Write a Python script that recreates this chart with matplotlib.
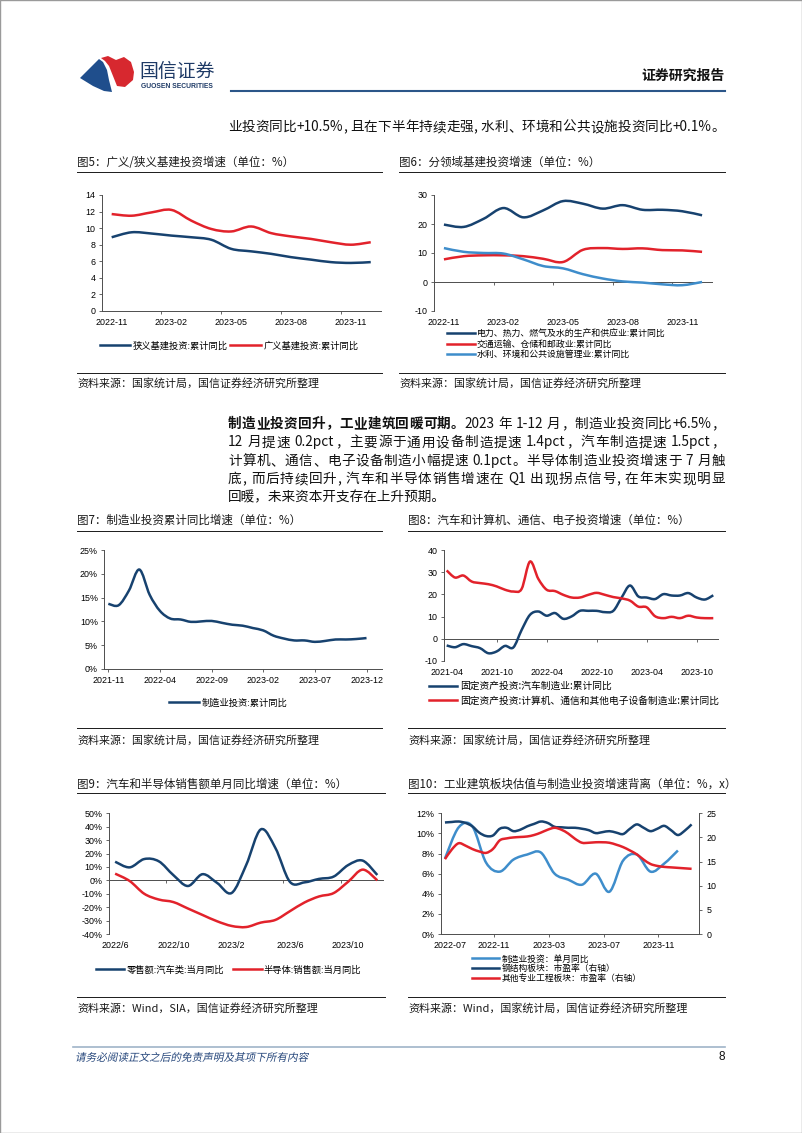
import re
import matplotlib
matplotlib.use('Agg')
import matplotlib.pyplot as plt
import numpy as np
from matplotlib.path import Path
from matplotlib.patches import PathPatch, Polygon, Rectangle
from matplotlib.lines import Line2D
from matplotlib.textpath import TextPath
from matplotlib.font_manager import FontProperties
from matplotlib.transforms import Affine2D

plt.rcParams['font.family'] = ['Noto Sans CJK SC', 'DejaVu Sans']

# ---------------- 数据 ----------------
# 图5  2022-11 ... 2023-12
f5_ticks = ['2022-11', '2023-02', '2023-05', '2023-08', '2023-11']
f5_narrow = [8.9, 9.5, 9.35, 9.1, 8.9, 8.6, 7.5, 7.2, 6.9, 6.5, 6.2, 5.9, 5.8, 5.9]
f5_broad = [11.7, 11.5, 11.9, 12.2, 10.9, 9.9, 9.6, 10.2, 9.4, 9.0, 8.7, 8.3, 8.0, 8.3]

# 图6
f6_ticks = ['2022-11', '2023-02', '2023-05', '2023-08', '2023-11']
f6_power = [19.8, 19.0, 21.8, 25.5, 22.3, 24.7, 27.9, 27.0, 25.3, 26.5, 24.9, 24.9, 24.4, 23.0]
f6_transport = [7.8, 8.9, 9.2, 9.2, 8.9, 8.0, 6.9, 11.1, 11.7, 11.4, 11.6, 11.0, 10.9, 10.4]
f6_water = [11.7, 10.4, 10.0, 9.8, 7.8, 5.5, 4.7, 2.7, 1.2, 0.2, -0.2, -0.8, -1.1, 0.0]

# 图7  2021-11 ... 2023-12
f7_ticks = ['2021-11', '2022-04', '2022-09', '2023-02', '2023-07', '2023-12']
f7_mfg = [13.7, 13.4, 16.5, 20.9, 15.6, 12.2, 10.6, 10.4, 9.9, 10.0, 10.1, 9.7, 9.3,
          9.1, 8.6, 8.1, 7.0, 6.4, 6.0, 6.0, 5.7, 5.9, 6.2, 6.2, 6.3, 6.5]

# 图8  2021-04 ... 2023-12
f8_ticks = ['2021-04', '2021-10', '2022-04', '2022-10', '2023-04', '2023-10']
f8_auto = [-3.0, -3.8, -2.4, -3.3, -4.2, -6.5, -5.7, -3.2, -3.9, 4.0, 10.8, 12.3, 10.4,
           11.6, 9.0, 10.1, 12.6, 12.6, 12.6, 12.0, 12.6, 18.6, 24.0, 19.1, 18.6, 17.9,
           20.1, 19.5, 19.5, 20.6, 18.6, 17.7, 19.6]
f8_comp = [30.8, 27.6, 28.5, 25.8, 25.1, 24.6, 23.6, 22.1, 21.3, 22.5, 34.8, 27.0, 22.1,
           21.5, 19.8, 18.6, 18.6, 19.8, 20.7, 19.8, 18.8, 18.2, 17.2, 14.5, 14.2, 10.2,
           9.3, 9.9, 9.3, 10.4, 9.6, 9.3, 9.3]

# 图9  2022/6 ... 2023/12
f9_ticks = ['2022/6', '2022/10', '2023/2', '2023/6', '2023/10']
f9_auto = [13.9, 9.7, 15.9, 14.2, 3.9, -4.2, 4.6, -1.9, -9.4, 11.5, 38.0, 24.2, -1.1,
           -1.5, 1.1, 2.8, 11.4, 14.7, 4.0]
f9_semi = [5.0, -0.5, -10.0, -14.3, -16.2, -21.0, -25.8, -30.5, -34.0, -34.8, -31.5,
           -29.5, -23.0, -16.5, -12.0, -9.5, -1.0, 8.0, 0.0]

# 图10  制造业投资单月同比 2022-07 ... 2023-12, 市盈率半月度
f10_ticks = ['2022-07', '2022-11', '2023-03', '2023-07', '2023-11']
f10_inv = [7.5, 10.6, 10.7, 7.1, 6.2, 7.4, 7.9, 8.1, 6.0, 5.4, 4.9, 6.0, 4.2, 7.3,
           7.9, 6.2, 7.0, 8.3]
f10_steel = [23.1, 23.2, 23.3, 23.0, 22.3, 21.0, 20.3, 20.4, 21.8, 22.0, 21.3, 21.6,
             22.3, 22.8, 23.3, 23.0, 22.2, 22.1, 22.0, 22.0, 21.8, 21.5, 20.9, 21.1,
             21.3, 21.0, 20.7, 21.8, 22.7, 22.0, 21.3, 21.8, 22.4, 21.5, 20.5, 21.4, 22.7]
f10_other = [15.5, 17.5, 18.8, 18.3, 17.6, 17.1, 16.8, 17.6, 19.4, 19.8, 20.0, 20.1,
             20.2, 20.5, 21.0, 21.6, 22.0, 21.6, 20.8, 19.7, 18.9, 18.9, 19.0, 19.0,
             18.9, 18.5, 18.0, 17.3, 16.5, 15.4, 14.5, 14.1, 13.9, 13.8, 13.7, 13.6, 13.5]

# ---------------- 样式 ----------------
W, H = 802, 1133
NAVY = '#17426F'
RED = '#E2222B'
LBLUE = '#3E8DCB'
AXC = '#4D4D4D'
TF = 'Liberation Sans'
TS = 6.4

fig = plt.figure(figsize=(W / 100, H / 100), dpi=100)
renderer = fig.canvas.get_renderer()


def fx(x):
    return x / W


def fy(y):
    return 1 - y / H


def add_ax(x0, x1, y0, y1):
    return fig.add_axes([fx(x0), fy(y1), (x1 - x0) / W, (y1 - y0) / H])


def text(x, y, s, size=8, **kw):
    kw.setdefault('va', 'center')
    return fig.text(fx(x), fy(y), s, fontsize=size, **kw)


def justify(y, segments, x0=228, x1=725, size=9.8):
    # 两端对齐：中文逐字，西文词保持整体
    toks = [(t, w) for s, w in segments for t in re.findall(r'[A-Za-z0-9.+%\-]+|.', s)]
    widths = []
    for t, w in toks:
        fp = FontProperties(family=['Noto Sans CJK SC', 'DejaVu Sans'], size=size, weight=w)
        widths.append(renderer.get_text_width_height_descent(t, fp, ismath=False)[0])
    gap = (x1 - x0 - sum(widths)) / (len(toks) - 1)
    x = x0
    for (t, w), tw in zip(toks, widths):
        text(x, y, t, size, weight=w, color='#111111')
        x += tw + gap


def hline(x0, x1, y, color='#222222', lw=0.6):
    fig.add_artist(Line2D([fx(x0), fx(x1)], [fy(y), fy(y)], color=color, lw=lw,
                          transform=fig.transFigure))


def smooth(ax, x, y, color, lw=1.8):
    pts = np.column_stack([x, y]).astype(float)
    n = len(pts)
    verts, codes = [pts[0]], [Path.MOVETO]
    for i in range(n - 1):
        p0 = pts[i - 1] if i > 0 else pts[i]
        p1, p2 = pts[i], pts[i + 1]
        p3 = pts[i + 2] if i + 2 < n else pts[i + 1]
        verts += [p1 + (p2 - p0) / 6, p2 - (p3 - p1) / 6, p2]
        codes += [Path.CURVE4] * 3
    ax.add_patch(PathPatch(Path(verts, codes), fill=False, edgecolor=color, lw=lw,
                           joinstyle='round', capstyle='butt'))


def base(ax, xlim, ylim, yticks, ylabels):
    ax.set_xlim(xlim)
    ax.set_ylim(ylim)
    ax.set_facecolor('none')
    ax.set_yticks(yticks)
    ax.set_yticklabels(ylabels, fontfamily=TF, fontsize=TS)
    for s in ['top', 'right']:
        ax.spines[s].set_visible(False)
    for s in ['left', 'bottom']:
        ax.spines[s].set_color(AXC)
        ax.spines[s].set_linewidth(0.7)
    ax.tick_params(axis='y', length=2.5, width=0.6, color=AXC, pad=2.1)


def xlabels(ax, pos, labels, marks=None, zero=None, major_len=0):
    ax.set_xticks(pos)
    ax.set_xticklabels(labels, fontfamily=TF, fontsize=TS)
    ax.tick_params(axis='x', which='major', length=major_len, width=0.6, color=AXC,
                   pad=5.0 - major_len)
    if zero is None:
        if marks is not None:
            ax.set_xticks(marks, minor=True)
            ax.tick_params(axis='x', which='minor', length=2.5, width=0.6, color=AXC)
    else:
        ax.spines['bottom'].set_visible(False)
        ax.tick_params(axis='x', which='major', length=0, pad=5.0)
        sec = ax.secondary_xaxis(zero)
        sec.set_xticks(marks)
        sec.tick_params(axis='x', length=2.5, width=0.6, color=AXC, labelbottom=False)
        sec.spines['bottom'].set_color(AXC)
        sec.spines['bottom'].set_linewidth(0.7)


def legend(ax, handles, labels, x, y, loc='center', ncol=1, size=6.7, hl=3.2,
           cs=0.5, ls=0.0):
    ax.legend(handles, labels, loc=loc, bbox_to_anchor=(fx(x), fy(y)),
              bbox_transform=fig.transFigure, ncol=ncol, frameon=False, fontsize=size,
              handlelength=hl, handletextpad=0.25, columnspacing=cs, labelspacing=ls,
              borderpad=0, borderaxespad=0)


def h(color):
    return Line2D([], [], color=color, lw=1.8)


def block(x0, x1, ty, title, uy, sy, src, ly):
    text(x0, ty, title, 8.3, color='#1a1a1a')
    hline(x0, x1, uy, '#1a1a1a', 0.7)
    hline(x0, x1, ly, '#1a1a1a', 0.7)
    text(x0, sy, src, 7.9, color='#1a1a1a')


# ---------------- 页面 ----------------
fig.add_artist(Rectangle((0, 0), 1, 1, transform=fig.transFigure, fill=False,
                         edgecolor='#9a9a9a', lw=1.0))

blue_logo = [(80, 78), (99, 59), (103, 62), (107, 70), (109, 80), (112, 92),
             (104, 91), (93, 86)]
red_logo = [(101, 58), (108, 56), (116, 60), (124, 57), (131, 62), (134, 72),
            (133, 80), (125, 87), (117, 86), (113, 76), (109, 66), (105, 61)]
fig.add_artist(Polygon([(fx(a), fy(b)) for a, b in blue_logo], closed=True,
                       transform=fig.transFigure, facecolor='#1F4E8C', edgecolor='none'))
fig.add_artist(Polygon([(fx(a), fy(b)) for a, b in red_logo], closed=True,
                       transform=fig.transFigure, facecolor='#D7282F', edgecolor='none'))
text(139.5, 71.5, '国信证券', 13.6, color='#1E3A66', weight='medium')
text(141, 87, 'GUOSEN SECURITIES', 4.9, color='#1E3A66', weight='bold', family=TF)
text(725, 76, '证券研究报告', 10, ha='right', weight='bold', color='#111111')
hline(231, 725, 91, '#2B5689', 1.5)

justify(127, [('业投资同比+10.5%, 且在下半年持续走强, 水利、环境和公共设施投资同比+0.1%。', 'normal')])

para = [[('制造业投资回升，工业建筑回暖可期。', 'bold'), ('2023 年 1-12 月，制造业投资同比+6.5%，', 'normal')],
        [('12 月提速 0.2pct，主要源于通用设备制造提速 1.4pct，汽车制造提速 1.5pct，', 'normal')],
        [('计算机、通信、电子设备制造小幅提速 0.1pct。半导体制造业投资增速于 7 月触', 'normal')],
        [('底, 而后持续回升, 汽车和半导体销售增速在 Q1 出现拐点信号, 在年末实现明显', 'normal')]]
for i, segs in enumerate(para):
    justify(424 + 18.4 * i, segs)
text(228, 424 + 18.4 * 4, '回暖，未来资本开支存在上升预期。', 9.8, color='#111111')

# ---------------- 图5 ----------------
block(77, 382, 162, '图5：广义/狭义基建投资增速（单位：%）', 171.7, 383,
      '资料来源：国家统计局，国信证券经济研究所整理', 372.7)
ax = add_ax(101.7, 380.7, 195, 311)
x = np.arange(len(f5_narrow))
base(ax, (-0.5, 13.5), (0, 14), range(0, 15, 2), [str(v) for v in range(0, 15, 2)])
xlabels(ax, [0, 3, 6, 9, 12], f5_ticks, marks=[2.5, 5.5, 8.5, 11.5])
smooth(ax, x, f5_narrow, NAVY)
smooth(ax, x, f5_broad, RED)
legend(ax, [h(NAVY), h(RED)], ['狭义基建投资:累计同比', '广义基建投资:累计同比'],
       229, 346, ncol=2, hl=3.3, cs=0.3)

# ---------------- 图6 ----------------
block(399, 725, 162, '图6：分领域基建投资增速（单位：%）', 171.7, 383,
      '资料来源：国家统计局，国信证券经济研究所整理', 372.7)
ax = add_ax(434, 712, 195, 311)
x = np.arange(len(f6_power))
base(ax, (-0.5, 13.5), (-10, 30), range(-10, 31, 10), [str(v) for v in range(-10, 31, 10)])
xlabels(ax, [0, 3, 6, 9, 12], f6_ticks, marks=[2.5, 5.5, 8.5, 11.5], zero=0.25)
smooth(ax, x, f6_power, NAVY)
smooth(ax, x, f6_transport, RED)
smooth(ax, x, f6_water, LBLUE)
legend(ax, [h(NAVY), h(RED), h(LBLUE)],
       ['电力、热力、燃气及水的生产和供应业:累计同比', '交通运输、仓储和邮政业:累计同比',
        '水利、环境和公共设施管理业:累计同比'], 447, 329.5, loc='upper left', size=6.4,
       hl=3.1, ls=0.12)

# ---------------- 图7 ----------------
block(77, 382, 520, '图7：制造业投资累计同比增速（单位：%）', 531, 740,
      '资料来源：国家统计局，国信证券经济研究所整理', 727.7)
ax = add_ax(104.3, 381.7, 550, 669)
x = np.arange(len(f7_mfg))
base(ax, (-0.39, 26.47), (0, 25), range(0, 26, 5), [f'{v}%' for v in range(0, 26, 5)])
xlabels(ax, [0, 5, 10, 15, 20, 25], f7_ticks, major_len=2.5)
smooth(ax, x, f7_mfg, NAVY)
legend(ax, [h(NAVY)], ['制造业投资:累计同比'], 228, 703, hl=3.2)

# ---------------- 图8 ----------------
block(408, 725, 520, '图8：汽车和计算机、通信、电子投资增速（单位：%）', 531, 740,
      '资料来源：国家统计局，国信证券经济研究所整理', 727.7)
ax = add_ax(444, 717.7, 550, 661)
x = np.arange(len(f8_auto))
base(ax, (-0.32, 32.53), (-10, 40), range(-10, 41, 10), [str(v) for v in range(-10, 41, 10)])
xlabels(ax, [0, 6, 12, 18, 24, 30], f8_ticks, marks=[6, 12, 18, 24, 30], zero=0.2)
smooth(ax, x, f8_auto, NAVY)
smooth(ax, x, f8_comp, RED)
legend(ax, [h(NAVY), h(RED)],
       ['固定资产投资:汽车制造业:累计同比', '固定资产投资:计算机、通信和其他电子设备制造业:累计同比'],
       429, 681, loc='upper left', size=7.0, hl=2.9, ls=0.5)

# ---------------- 图9 ----------------
block(77, 385, 784, '图9：汽车和半导体销售额单月同比增速（单位：%）', 793.3, 1008.3,
      '资料来源：Wind，SIA，国信证券经济研究所整理', 996.7)
ax = add_ax(109, 382.7, 813.3, 934)
x = np.arange(len(f9_auto))
base(ax, (-0.42, 18.37), (-40, 50), range(-40, 51, 10), [f'{v}%' for v in range(-40, 51, 10)])
xlabels(ax, [0, 4, 8, 12, 16], f9_ticks, marks=[3.5, 7.5, 11.5, 15.5], zero=40 / 90)
smooth(ax, x, f9_auto, NAVY)
smooth(ax, x, f9_semi, RED)
legend(ax, [h(NAVY), h(RED)], ['零售额:汽车类:当月同比', '半导体:销售额:当月同比'],
       228.5, 970, ncol=2, hl=3.1, cs=0.9)

# ---------------- 图10 ----------------
block(408, 725, 784, '图10：工业建筑板块估值与制造业投资增速背离（单位：%，x）', 793.3, 1008.3,
      '资料来源：Wind，国家统计局，国信证券经济研究所整理', 996.7)
ax = add_ax(440.7, 699, 813.3, 934)
base(ax, (0.11, 18.96), (0, 12), range(0, 13, 2), [f'{v}%' for v in range(0, 13, 2)])
xlabels(ax, [0.79, 4, 8, 12, 16], f10_ticks, major_len=2.5)
ax.xaxis.get_major_ticks()[0].tick1line.set_visible(False)
ax2 = ax.twinx()
ax2.set_ylim(0, 25)
ax2.set_yticks(range(0, 26, 5))
ax2.set_yticklabels([str(v) for v in range(0, 26, 5)], fontfamily=TF, fontsize=TS)
for s in ['top', 'left', 'bottom']:
    ax2.spines[s].set_visible(False)
ax2.spines['right'].set_color(AXC)
ax2.spines['right'].set_linewidth(0.7)
ax2.tick_params(axis='y', length=2.5, width=0.6, color=AXC, pad=3.0)
smooth(ax, np.arange(len(f10_inv)) + 0.42, f10_inv, LBLUE)
smooth(ax2, 0.42 + 0.5 * np.arange(len(f10_steel)), f10_steel, NAVY)
smooth(ax2, 0.42 + 0.5 * np.arange(len(f10_other)), f10_other, RED)
legend(ax2, [h(LBLUE), h(NAVY), h(RED)],
       ['制造业投资：单月同比', '钢结构板块：市盈率（右轴）', '其他专业工程板块：市盈率（右轴）'],
       472, 954.5, loc='upper left', size=6.3, hl=3.1, ls=0.1)

# ---------------- 页脚 ----------------
hline(73, 725, 1047.3, '#9FB4C8', 1.2)
fp = FontProperties(family='Noto Sans CJK SC')
tp = TextPath((0, 0), '请务必阅读正文之后的免责声明及其项下所有内容', size=10.6, prop=fp)
fig.add_artist(PathPatch(tp, transform=Affine2D().skew_deg(12, 0).translate(75, H - 1061),
                         facecolor='#24457A', edgecolor='none'))
text(725, 1057.5, '8', 8.5, ha='right', family=TF, color='#111111')

fig.savefig('out.png', dpi=100)
